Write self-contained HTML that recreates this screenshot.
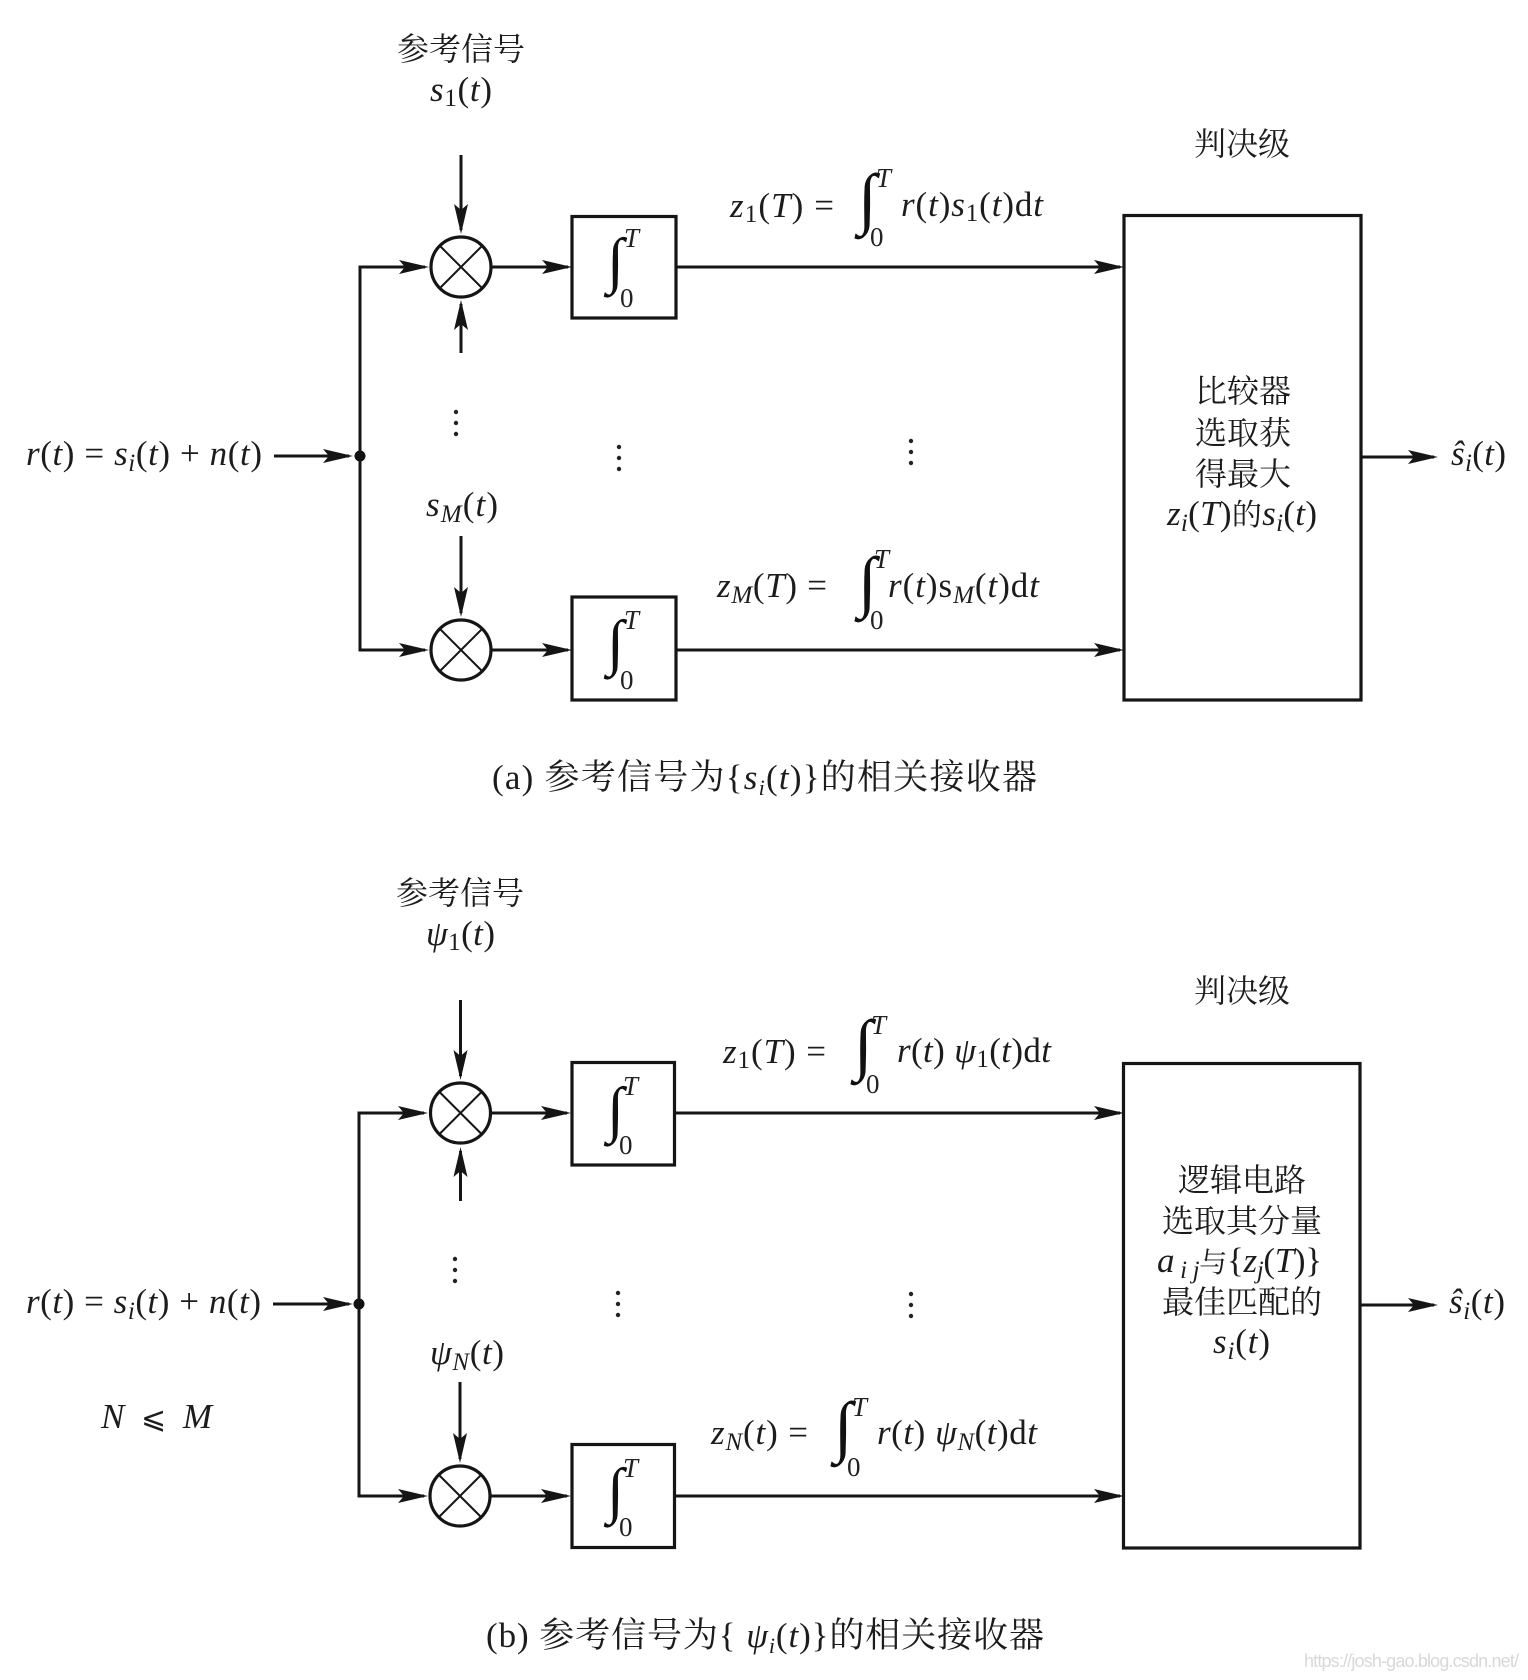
<!DOCTYPE html>
<html><head><meta charset="utf-8"><style>
html,body{margin:0;padding:0;background:#fff}
svg{display:block}
.m{font-family:"Liberation Serif","Noto Serif CJK SC",serif;font-size:35px;fill:#1c1c1c}
.c{font-family:"Noto Serif CJK SC","Liberation Serif",serif;font-size:32px;fill:#1c1c1c;text-anchor:middle}
.it{font-style:italic}
.s{font-size:25px}
.int{font-family:"Liberation Serif",serif;font-size:62px;fill:#111}
.intb{font-family:"Liberation Serif",serif;font-size:68px;fill:#111}
.lim{font-family:"Liberation Serif",serif;font-size:27px;fill:#222}
.w{fill:none;stroke:#151515;stroke-width:3}
.b{fill:none;stroke:#151515;stroke-width:3.2}
.d{fill:#222}
</style></head><body>
<svg xmlns="http://www.w3.org/2000/svg" width="1528" height="1680" viewBox="0 0 1528 1680">
<defs>
<marker id="a" markerUnits="userSpaceOnUse" markerWidth="32" markerHeight="18" refX="26" refY="9" orient="auto"><path d="M30 9L0 2L6 9L0 16Z" fill="#151515"/></marker>
</defs>
<g>
<!-- part a -->
<path class="w" d="M461 155V230" marker-end="url(#a)"/>
<path class="w" d="M461 353V304" marker-end="url(#a)"/>
<path class="w" d="M461 536V613" marker-end="url(#a)"/>
<path class="w" d="M274 456H349" marker-end="url(#a)"/>
<path class="w" d="M360 456V267H425" marker-end="url(#a)"/>
<path class="w" d="M360 456V650H425" marker-end="url(#a)"/>
<path class="w" d="M492 267H568" marker-end="url(#a)"/>
<path class="w" d="M492 650H568" marker-end="url(#a)"/>
<path class="w" d="M677 267H1120" marker-end="url(#a)"/>
<path class="w" d="M677 650H1120" marker-end="url(#a)"/>
<path class="w" d="M1362 457H1434" marker-end="url(#a)"/>
<circle cx="360" cy="456" r="5.500" fill="#111"/>
<rect class="b" x="572" y="216.500" width="104" height="101.500"/>
<rect class="b" x="572" y="597" width="104" height="103"/>
<rect class="b" x="1124" y="215.500" width="237" height="484.500"/>
<g class="b"><circle cx="461" cy="267" r="30"/><path d="M440 246L482 288M482 246L440 288" stroke-width="2"/></g>
<g class="b"><circle cx="461" cy="650" r="30"/><path d="M440 629L482 671M482 629L440 671" stroke-width="2"/></g>
<!-- part b -->
<path class="w" d="M460.500 1000V1076" marker-end="url(#a)"/>
<path class="w" d="M460.500 1201V1151" marker-end="url(#a)"/>
<path class="w" d="M460 1382V1459" marker-end="url(#a)"/>
<path class="w" d="M273 1304H349" marker-end="url(#a)"/>
<path class="w" d="M359 1304V1113H424" marker-end="url(#a)"/>
<path class="w" d="M359 1304V1496H424" marker-end="url(#a)"/>
<path class="w" d="M491 1113H567" marker-end="url(#a)"/>
<path class="w" d="M491 1496H567" marker-end="url(#a)"/>
<path class="w" d="M675 1113H1120" marker-end="url(#a)"/>
<path class="w" d="M675 1496H1120" marker-end="url(#a)"/>
<path class="w" d="M1361 1305H1434" marker-end="url(#a)"/>
<circle cx="359" cy="1304" r="5.500" fill="#111"/>
<rect class="b" x="572" y="1062.500" width="102.500" height="102.500"/>
<rect class="b" x="572" y="1444.500" width="102.500" height="103"/>
<rect class="b" x="1123.500" y="1063.500" width="236.500" height="484.500"/>
<g class="b"><circle cx="460.500" cy="1113" r="30"/><path d="M439.500 1092L481.500 1134M481.500 1092L439.500 1134" stroke-width="2"/></g>
<g class="b"><circle cx="460" cy="1496" r="30"/><path d="M439 1475L481 1517M481 1475L439 1517" stroke-width="2"/></g>
</g>
<!-- labels a -->
<text class="c" x="461" y="60">参考信号</text>
<text class="m" x="430" y="101" textLength="62"><tspan class="it">s</tspan><tspan dy="5" class="s">1</tspan><tspan dy="-5">(</tspan><tspan class="it">t</tspan>)</text>
<text class="m" x="26" y="465" textLength="236"><tspan class="it">r</tspan>(<tspan class="it">t</tspan>) = <tspan class="it">s</tspan><tspan class="it s" dy="6">i</tspan><tspan dy="-6">(</tspan><tspan class="it">t</tspan>) + <tspan class="it">n</tspan>(<tspan class="it">t</tspan>)</text>
<text class="m" x="426" y="516" textLength="72"><tspan class="it">s</tspan><tspan class="it s" dy="6">M</tspan><tspan dy="-6">(</tspan><tspan class="it">t</tspan>)</text>
<text class="c" x="1242" y="155">判决级</text>
<text class="m" x="730" y="217" textLength="104"><tspan class="it">z</tspan><tspan dy="5" class="s">1</tspan><tspan dy="-5">(</tspan><tspan class="it">T</tspan>) =</text>
<text class="m" x="901" y="216" textLength="142"><tspan class="it">r</tspan>(<tspan class="it">t</tspan>)<tspan class="it">s</tspan><tspan dy="5" class="s">1</tspan><tspan dy="-5">(</tspan><tspan class="it">t</tspan>)d<tspan class="it">t</tspan></text>
<text class="m" x="717" y="597" textLength="110"><tspan class="it">z</tspan><tspan class="it s" dy="6">M</tspan><tspan dy="-6">(</tspan><tspan class="it">T</tspan>) =</text>
<text class="m" x="888" y="597" textLength="151"><tspan class="it">r</tspan>(<tspan class="it">t</tspan>)s<tspan class="it s" dy="6">M</tspan><tspan dy="-6">(</tspan><tspan class="it">t</tspan>)d<tspan class="it">t</tspan></text>
<text class="intb" x="858" y="221">∫</text><text class="lim it" x="876" y="187">T</text><text class="lim" x="870" y="246">0</text>
<text class="intb" x="858" y="604">∫</text><text class="lim it" x="874" y="568">T</text><text class="lim" x="870" y="629">0</text>
<text class="int" x="607" y="281">∫</text><text class="lim it" x="624" y="247">T</text><text class="lim" x="620" y="307">0</text>
<text class="int" x="607" y="663">∫</text><text class="lim it" x="624" y="629">T</text><text class="lim" x="620" y="689">0</text>
<text class="c" x="1243" y="402">比较器</text>
<text class="c" x="1243" y="444">选取获</text>
<text class="c" x="1243" y="485">得最大</text>
<text class="m" x="1167" y="525" textLength="150"><tspan class="it">z</tspan><tspan class="it s" dy="6">i</tspan><tspan dy="-6">(</tspan><tspan class="it">T</tspan>)<tspan font-size="30">的</tspan><tspan class="it">s</tspan><tspan class="it s" dy="6">i</tspan><tspan dy="-6">(</tspan><tspan class="it">t</tspan>)</text>
<text class="m" x="1451" y="465" textLength="55"><tspan class="it">ŝ</tspan><tspan class="it s" dy="6">i</tspan><tspan dy="-6">(</tspan><tspan class="it">t</tspan>)</text>
<text class="m" x="492" y="789" textLength="545">(a) <tspan font-family="Noto Serif CJK SC">参考信号为</tspan>{<tspan class="it">s</tspan><tspan class="it" dy="6" font-size="22">i</tspan><tspan dy="-6">(</tspan><tspan class="it">t</tspan>)}<tspan font-family="Noto Serif CJK SC">的相关接收器</tspan></text>
<g class="d">
<circle cx="456" cy="412" r="2.200"/><circle cx="456" cy="423" r="2.200"/><circle cx="456" cy="434" r="2.200"/>
<circle cx="619" cy="447" r="2.200"/><circle cx="619" cy="458" r="2.200"/><circle cx="619" cy="469" r="2.200"/>
<circle cx="911" cy="441" r="2.200"/><circle cx="911" cy="452" r="2.200"/><circle cx="911" cy="463" r="2.200"/>
<circle cx="455" cy="1259" r="2.200"/><circle cx="455" cy="1270" r="2.200"/><circle cx="455" cy="1281" r="2.200"/>
<circle cx="618" cy="1293" r="2.200"/><circle cx="618" cy="1304" r="2.200"/><circle cx="618" cy="1315" r="2.200"/>
<circle cx="911" cy="1294" r="2.200"/><circle cx="911" cy="1305" r="2.200"/><circle cx="911" cy="1316" r="2.200"/>
</g>
<!-- labels b -->
<text class="c" x="460" y="904">参考信号</text>
<text class="m" x="426" y="945" textLength="69"><tspan class="it">ψ</tspan><tspan dy="5" class="s">1</tspan><tspan dy="-5">(</tspan><tspan class="it">t</tspan>)</text>
<text class="m" x="26" y="1313" textLength="235"><tspan class="it">r</tspan>(<tspan class="it">t</tspan>) = <tspan class="it">s</tspan><tspan class="it s" dy="6">i</tspan><tspan dy="-6">(</tspan><tspan class="it">t</tspan>) + <tspan class="it">n</tspan>(<tspan class="it">t</tspan>)</text>
<text class="m" x="430" y="1373" textLength="74" dy="-9"><tspan class="it">ψ</tspan><tspan class="it s" dy="6">N</tspan><tspan dy="-6">(</tspan><tspan class="it">t</tspan>)</text>
<text class="m" x="101" y="1428" textLength="111"><tspan class="it">N</tspan> <tspan font-family="DejaVu Sans" font-size="30">⩽</tspan> <tspan class="it">M</tspan></text>
<text class="c" x="1242" y="1002">判决级</text>
<text class="m" x="723" y="1063" textLength="103"><tspan class="it">z</tspan><tspan dy="5" class="s">1</tspan><tspan dy="-5">(</tspan><tspan class="it">T</tspan>) =</text>
<text class="m" x="897" y="1062" textLength="154"><tspan class="it">r</tspan>(<tspan class="it">t</tspan>) <tspan class="it">ψ</tspan><tspan dy="5" class="s">1</tspan><tspan dy="-5">(</tspan><tspan class="it">t</tspan>)d<tspan class="it">t</tspan></text>
<text class="m" x="711" y="1444" textLength="97"><tspan class="it">z</tspan><tspan class="it s" dy="6">N</tspan><tspan dy="-6">(</tspan><tspan class="it">t</tspan>) =</text>
<text class="m" x="877" y="1444" textLength="160"><tspan class="it">r</tspan>(<tspan class="it">t</tspan>) <tspan class="it">ψ</tspan><tspan class="it s" dy="6">N</tspan><tspan dy="-6">(</tspan><tspan class="it">t</tspan>)d<tspan class="it">t</tspan></text>
<text class="intb" x="854" y="1067">∫</text><text class="lim it" x="871" y="1034">T</text><text class="lim" x="866" y="1093">0</text>
<text class="intb" x="834" y="1449">∫</text><text class="lim it" x="852" y="1416">T</text><text class="lim" x="847" y="1476">0</text>
<text class="int" x="607" y="1130">∫</text><text class="lim it" x="623" y="1095">T</text><text class="lim" x="619" y="1154">0</text>
<text class="int" x="607" y="1511">∫</text><text class="lim it" x="623" y="1477">T</text><text class="lim" x="619" y="1536">0</text>
<text class="c" x="1242" y="1191">逻辑电路</text>
<text class="c" x="1242" y="1232">选取其分量</text>
<text class="m" x="1157" y="1272" textLength="165"><tspan class="it">a</tspan><tspan class="it s" dy="6"> i j</tspan><tspan dy="-6" font-size="28">与</tspan>{<tspan class="it">z</tspan><tspan class="it s" dy="6">j</tspan><tspan dy="-6">(</tspan><tspan class="it">T</tspan>)}</text>
<text class="c" x="1242" y="1313">最佳匹配的</text>
<text class="m" x="1213" y="1353" textLength="57"><tspan class="it">s</tspan><tspan class="it s" dy="6">i</tspan><tspan dy="-6">(</tspan><tspan class="it">t</tspan>)</text>
<text class="m" x="1449" y="1313" textLength="56"><tspan class="it">ŝ</tspan><tspan class="it s" dy="6">i</tspan><tspan dy="-6">(</tspan><tspan class="it">t</tspan>)</text>
<text class="m" x="486" y="1647" textLength="558">(b) <tspan font-family="Noto Serif CJK SC">参考信号为</tspan>{ <tspan class="it">ψ</tspan><tspan class="it" dy="6" font-size="22">i</tspan><tspan dy="-6">(</tspan><tspan class="it">t</tspan>)}<tspan font-family="Noto Serif CJK SC">的相关接收器</tspan></text>
<text x="1304" y="1667" textLength="215" font-family="Liberation Sans, sans-serif" font-size="18" fill="#d8d8d8">https://josh-gao.blog.csdn.net/</text>
</svg>
</body></html>
